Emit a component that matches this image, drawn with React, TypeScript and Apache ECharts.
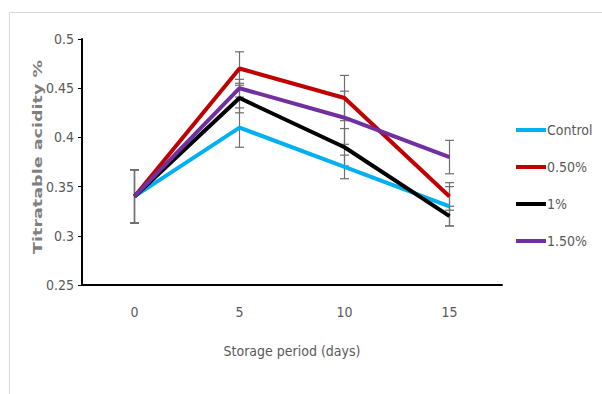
import React, { useEffect, useRef } from "react";
import * as echarts from "echarts";

const categories = ["0", "5", "10", "15"];
const seriesNames = ["Control", "0.50%", "1%", "1.50%"];
const controlValues = [0.34, 0.41, 0.37, 0.33];
const halfValues = [0.34, 0.47, 0.44, 0.34];
const oneValues = [0.34, 0.44, 0.39, 0.32];
const oneHalfValues = [0.34, 0.45, 0.42, 0.38];
const controlErr = [0.027, 0.02, 0.012, 0.02];
const halfErr = [0.027, 0.017, 0.023, 0.014];
const oneErr = [0.027, 0.015, 0.019, 0.01];
const oneHalfErr = [0.027, 0.009, 0.027, 0.017];
const colors = ["#00B0F0", "#C00000", "#000000", "#7030A0"];
const yAxisTitle = "Titratable acidity %";
const xAxisTitle = "Storage period (days)";

const NARROW = "'Liberation Sans Narrow', 'DejaVu Sans Condensed', 'Open Sans', sans-serif";

export default function App() {
  const ref = useRef<HTMLDivElement>(null);
  useEffect(() => {
    if (!ref.current) return;
    const chart = echarts.init(ref.current, undefined, { renderer: "svg" });
    const values = [controlValues, halfValues, oneValues, oneHalfValues];
    const errs = [controlErr, halfErr, oneErr, oneHalfErr];

    const lineSeries = values.map((v, i) => ({
      name: seriesNames[i],
      type: "line",
      data: v,
      showSymbol: false,
      symbol: "none",
      lineStyle: { color: colors[i], width: 4 },
      itemStyle: { color: colors[i] },
      z: 5,
    }));

    const errSeries = values.map((v, i) => ({
      type: "custom",
      name: "err" + i,
      data: v.map((val, j) => [j, val - errs[i][j], val + errs[i][j]]),
      z: 3,
      silent: true,
      renderItem: (params: any, api: any) => {
        const x = api.value(0);
        const lo = api.coord([x, api.value(1)]);
        const hi = api.coord([x, api.value(2)]);
        const hw = 4.5;
        const style = { stroke: "#6e6e6e", lineWidth: 1.2 };
        return {
          type: "group",
          children: [
            { type: "line", shape: { x1: hi[0], y1: hi[1], x2: lo[0], y2: lo[1] }, style },
            { type: "line", shape: { x1: hi[0] - hw, y1: hi[1], x2: hi[0] + hw, y2: hi[1] }, style },
            { type: "line", shape: { x1: lo[0] - hw, y1: lo[1], x2: lo[0] + hw, y2: lo[1] }, style },
          ],
        };
      },
    }));

    chart.setOption({
      animation: false,
      backgroundColor: "#ffffff",
      graphic: [
        {
          type: "rect",
          shape: { x: 9.5, y: 12.5, width: 620, height: 400 },
          style: { fill: "none", stroke: "#d9d9d9", lineWidth: 1 },
          silent: true,
        },
        {
          type: "text",
          x: 38,
          y: 157,
          rotation: Math.PI / 2,
          scaleX: 1.35,
          style: {
            text: yAxisTitle,
            fontFamily: "'DejaVu Sans', sans-serif",
            fontWeight: "bold",
            fontSize: 13,
            fill: "#7f7f7f",
            align: "center",
            verticalAlign: "middle",
          },
          silent: true,
        },
      ],
      legend: {
        orient: "vertical",
        left: 511,
        top: 118,
        itemGap: 23,
        itemWidth: 30,
        itemHeight: 4,
        icon: "rect",
        data: seriesNames,
        textStyle: { fontFamily: NARROW, fontSize: 14, color: "#595959", padding: [0, 0, 0, -4] },
      },
      grid: { left: 82, right: 100, top: 39, bottom: 109 },
      xAxis: {
        type: "category",
        data: categories,
        boundaryGap: true,
        axisLine: { lineStyle: { color: "#000000", width: 2 } },
        axisTick: { show: false },
        axisLabel: { fontFamily: NARROW, fontSize: 14, color: "#595959", margin: 20 },
        name: xAxisTitle,
        nameLocation: "middle",
        nameGap: 59,
        nameTextStyle: { fontFamily: NARROW, fontSize: 14, color: "#595959" },
      },
      yAxis: {
        type: "value",
        min: 0.25,
        max: 0.5,
        interval: 0.05,
        splitLine: { show: false },
        axisLine: { show: true, lineStyle: { color: "#000000", width: 2 } },
        axisTick: { show: true, length: 4, lineStyle: { color: "#000000" } },
        axisLabel: {
          fontFamily: NARROW,
          fontSize: 14,
          color: "#595959",
          margin: 8,
          formatter: (v: number) => String(+v.toFixed(2)),
        },
      },
      series: [...errSeries, ...lineSeries],
    });
    return () => chart.dispose();
  }, []);
  return <div ref={ref} style={{ width: 602, height: 394, position: "absolute", left: 0, top: 0 }} />;
}
